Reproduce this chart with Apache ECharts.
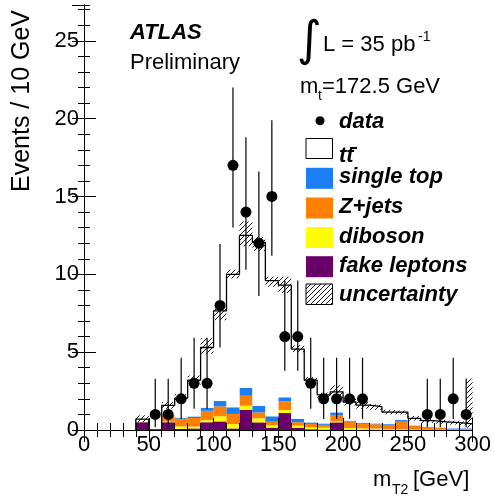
<!DOCTYPE html>
<html><head><meta charset="utf-8">
<script src="https://cdn.jsdelivr.net/npm/echarts/dist/echarts.min.js"></script>
<style>html,body{margin:0;padding:0;background:#fff}#c{width:494px;height:498px}</style>
</head><body><div id="c"></div>
<script>
// ---- data (bins of 10 GeV, lower edges) ----
const binLow      = [40,50,60,70,80,90,100,110,120,130,140,150,160,170,180,190,200,210,220,230,240,250,260,270,280,290];
const fakeLeptons = [0.5,0,0.5,0.08,0.1,0.5,0.55,0.1,1.3,0.49,0.15,1.09,0.15,0.05,0.03,0.49,0.02,0.02,0.02,0.01,0.01,0,0,0,0,0];
const diboson     = [0.02,0,0.05,0.15,0.12,0.13,0.33,0.28,0.26,0.26,0.17,0.19,0.13,0.12,0.12,0.06,0.1,0.08,0.07,0.03,0.04,0.02,0.01,0.01,0.01,0.01];
const zJets       = [0,0,0.35,0.5,0.55,0.6,0.64,0.65,0.64,0.38,0.21,0.56,0.22,0.22,0.18,0.41,0.42,0.3,0.28,0.3,0.48,0.25,0.15,0.12,0.06,0.05];
const singleTop   = [0,0,0.05,0.07,0.1,0.2,0.34,0.43,0.5,0.43,0.35,0.26,0.23,0.1,0.09,0.17,0.06,0.07,0.05,0.05,0.11,0.03,0.04,0.03,0.04,0.05];
const ttbar       = [0.18,0,0.63,1.25,2.33,3.87,5.79,8.54,9.8,10.49,8.72,7.2,4.47,2.71,1.83,1.32,1.2,1.13,1.08,0.76,0.51,0.45,0.4,0.36,0.36,0.29];
const uncLow      = [0.5,0,1.37,1.8,2.9,4.9,7.05,9.74,11.8,11.5,9.2,8.8,5.0,3.0,2.0,2.0,1.58,1.37,1.3,1.0,1.0,0.6,0.45,0.4,0.35,0.3];
const uncHigh     = [0.95,0,1.8,2.3,3.5,5.9,7.9,10.3,13.4,12.4,9.85,9.85,5.45,3.4,2.4,2.87,2.0,1.8,1.65,1.3,1.25,0.9,0.7,0.65,0.6,0.55];
const lastBinUnc  = [295,300,0.15,3.3];
const dataX       = [55,65,75,85,95,105,115,125,135,145,155,165,175,185,195,205,215,265,275,285,295];
const dataY       = [1,1,2,3,3,8,17,14,12,15,6,6,3,2,2,2,2,1,1,2,1];
const dataErrLow  = [0.17,0.17,0.71,1.37,1.37,5.3,13.0,10.3,8.6,11.2,3.8,3.8,1.37,0.71,0.71,0.71,0.71,0.17,0.17,0.71,0.17];
const dataErrHigh = [3.3,3.3,4.64,5.92,5.92,11.95,22.0,18.8,16.6,19.9,9.6,9.6,5.92,4.64,4.64,4.64,4.64,3.3,3.3,4.64,3.3];
const BIN = 10;

const FONT = '"Liberation Sans", Arial, Helvetica, sans-serif';
const COL = {fake:'#690069', dib:'#ffff00', z:'#ff7f00', st:'#1a7ff5', tt:'#ffffff'};

function hatchCanvas(){
  const c = document.createElement('canvas'); c.width = 5; c.height = 5;
  const g = c.getContext('2d'); g.strokeStyle = '#000'; g.lineWidth = 0.9;
  g.beginPath(); g.moveTo(-1,6); g.lineTo(6,-1); g.moveTo(-1,1); g.lineTo(1,-1); g.moveTo(4,6); g.lineTo(6,4); g.stroke();
  return c;
}
const HATCH = {image: hatchCanvas(), repeat: 'repeat'};

// stacks
const comps = [
  {name:'fake leptons', vals:fakeLeptons, color:COL.fake},
  {name:'diboson', vals:diboson, color:COL.dib},
  {name:'Z+jets', vals:zJets, color:COL.z},
  {name:'single top', vals:singleTop, color:COL.st},
  {name:'ttbar', vals:ttbar, color:COL.tt}
];
const base = binLow.map(()=>0);
const stackSeries = comps.map(c => {
  const d = binLow.map((x,i)=>{ const lo = base[i]; base[i] += c.vals[i]; return [x, x+BIN, lo, base[i]]; });
  return {
    type:'custom', name:c.name, xAxisIndex:0, yAxisIndex:0, silent:true,
    renderItem:(p, api)=>{
      const a = api.coord([api.value(0), api.value(2)]), b = api.coord([api.value(1), api.value(3)]);
      return {type:'rect', shape:{x:a[0], y:b[1], width:b[0]-a[0], height:a[1]-b[1]}, style:{fill:c.color}};
    },
    encode:{x:[0,1], y:[2,3]}, data:d
  };
});
const total = base.slice();
const stepData = [[binLow[0],0]].concat(binLow.map((x,i)=>[x,total[i]])).concat([[binLow[binLow.length-1]+BIN, total[total.length-1]]]);

const bandData = binLow.map((x,i)=>[x, x+BIN, uncLow[i], uncHigh[i]]).filter(d=>d[3]>d[2]);
bandData.push(lastBinUnc);

const errData = dataX.map((x,i)=>[x, dataErrLow[i], dataErrHigh[i]]);
const ptData = dataX.map((x,i)=>[x, dataY[i]]);

const YMAX = 27.3;
function xAx(pos, interval, major, showLabel){
  return {type:'value', min:0, max:300, interval:interval, position:pos, z:10, offset:0,
    axisLine:{show:major, lineStyle:{color:'#000', width:1}},
    axisTick:{show:true, inside:true, length: major?12:7, lineStyle:{color:'#000', width:1}},
    axisLabel:{show:showLabel, fontSize:22, color:'#000', fontFamily:FONT, margin:4},
    splitLine:{show:false}};
}
function yAx(pos, interval, major, showLabel){
  return {type:'value', min:0, max:YMAX, interval:interval, position:pos, z:10, offset:0,
    axisLine:{show:major, lineStyle:{color:'#000', width:1}},
    axisTick:{show:true, inside:true, length: major?12:6, lineStyle:{color:'#000', width:1}},
    axisLabel:{show:showLabel, fontSize:22, color:'#000', fontFamily:FONT, margin:5, showMaxLabel:false},
    splitLine:{show:false}};
}

const chart = echarts.init(document.getElementById('c'), null, {renderer:'canvas'});
const lx = 306, tx = 339;
const legendRows = [
  {label:'single top', color:COL.st, y:178.3},
  {label:'Z+jets', color:COL.z, y:208},
  {label:'diboson', color:COL.dib, y:237.5},
  {label:'fake leptons', color:COL.fake, y:266.7}
];
const LF = 'bold italic 22px ' + FONT;
const graphics = [
  {type:'text', x:130, y:44, style:{text:'ATLAS', font:'bold italic 22px '+FONT, fill:'#000', verticalAlign:'bottom'}},
  {type:'text', x:130, y:74, style:{text:'Preliminary', font:'22px '+FONT, fill:'#000', verticalAlign:'bottom'}},
  {type:'text', x:297, y:43, style:{text:'\u222B', font:'48px "DejaVu Sans"', fill:'#000', verticalAlign:'middle'}},
  {type:'text', x:323, y:45, style:{text:'L = 35 pb', font:'22px '+FONT, fill:'#000', verticalAlign:'middle'}},
  {type:'text', x:418, y:37, style:{text:'-1', font:'14px '+FONT, fill:'#000', verticalAlign:'middle'}},
  {type:'text', x:300, y:87, style:{text:'m', font:'22px '+FONT, fill:'#000', verticalAlign:'middle'}},
  {type:'text', x:318, y:96, style:{text:'t', font:'14px '+FONT, fill:'#000', verticalAlign:'middle'}},
  {type:'text', x:322, y:87, style:{text:'=172.5 GeV', font:'22px '+FONT, fill:'#000', verticalAlign:'middle'}},
  {type:'circle', shape:{cx:320, cy:120.7, r:4.5}, style:{fill:'#000'}},
  {type:'text', x:tx, y:122.4, style:{text:'data', font:LF, fill:'#000', verticalAlign:'middle'}},
  {type:'rect', shape:{x:lx, y:138.5, width:26.5, height:20}, style:{fill:'#fff', stroke:'#000', lineWidth:1}},
  {type:'text', x:tx, y:155.7, style:{text:'tt', font:LF, fill:'#000', verticalAlign:'middle'}},
  {type:'line', shape:{x1:350, y1:148, x2:357, y2:148}, style:{stroke:'#000', lineWidth:2}},
  {type:'rect', shape:{x:lx, y:284, width:26.5, height:20.5}, style:{fill:HATCH, stroke:'#000', lineWidth:1}},
  {type:'text', x:tx, y:294.5, style:{text:'uncertainty', font:LF, fill:'#000', verticalAlign:'middle'}},
  {type:'text', x:22, y:10, rotation:Math.PI/2, style:{text:'Events / 10 GeV', font:'25px '+FONT, fill:'#000', align:'right', verticalAlign:'middle'}},
  {type:'text', x:373, y:491, style:{text:'m', font:'22px '+FONT, fill:'#000', verticalAlign:'bottom'}},
  {type:'text', x:392, y:497, style:{text:'T2', font:'14px '+FONT, fill:'#000', verticalAlign:'bottom'}},
  {type:'text', x:413, y:491, style:{text:'[GeV]', font:'22px '+FONT, fill:'#000', verticalAlign:'bottom'}}
];
legendRows.forEach(r=>{
  graphics.push({type:'rect', shape:{x:lx, y:r.y-10.5, width:27, height:21}, style:{fill:r.color}});
  graphics.push({type:'text', x:tx, y:r.y-1, style:{text:r.label, font:LF, fill:'#000', verticalAlign:'middle'}});
});

chart.setOption({
  animation:false,
  backgroundColor:'#fff',
  grid:{left:84, right:21, top:5, bottom:68, containLabel:false},
  xAxis:[xAx('bottom',50,true,true), xAx('bottom',10,false,false), xAx('top',50,true,false), xAx('top',10,false,false)],
  yAxis:[yAx('left',5,true,true), yAx('left',1,false,false), yAx('right',5,true,false), yAx('right',1,false,false)],
  series: stackSeries.concat([
    {type:'custom', name:'uncertainty', xAxisIndex:0, yAxisIndex:0, silent:true,
     renderItem:(p, api)=>{
       const a = api.coord([api.value(0), api.value(2)]), b = api.coord([api.value(1), api.value(3)]);
       return {type:'rect', shape:{x:a[0], y:b[1], width:b[0]-a[0], height:a[1]-b[1]}, style:{fill:HATCH}};
     }, encode:{x:[0,1], y:[2,3]}, data:bandData},
    {type:'line', name:'total', xAxisIndex:0, yAxisIndex:0, step:'end', showSymbol:false, symbol:'none',
     lineStyle:{color:'#000', width:1.3}, data:stepData, silent:true},
    {type:'custom', name:'errors', xAxisIndex:0, yAxisIndex:0, silent:true,
     renderItem:(p, api)=>{
       const a = api.coord([api.value(0), api.value(1)]), b = api.coord([api.value(0), api.value(2)]);
       return {type:'line', shape:{x1:a[0], y1:a[1], x2:b[0], y2:b[1]}, style:{stroke:'#000', lineWidth:1.2}};
     }, encode:{x:0, y:[1,2]}, data:errData},
    {type:'scatter', name:'data', xAxisIndex:0, yAxisIndex:0, symbol:'circle', symbolSize:11,
     itemStyle:{color:'#000', opacity:1}, data:ptData, silent:true}
  ]),
  graphic:{elements:graphics}
});
</script></body></html>
